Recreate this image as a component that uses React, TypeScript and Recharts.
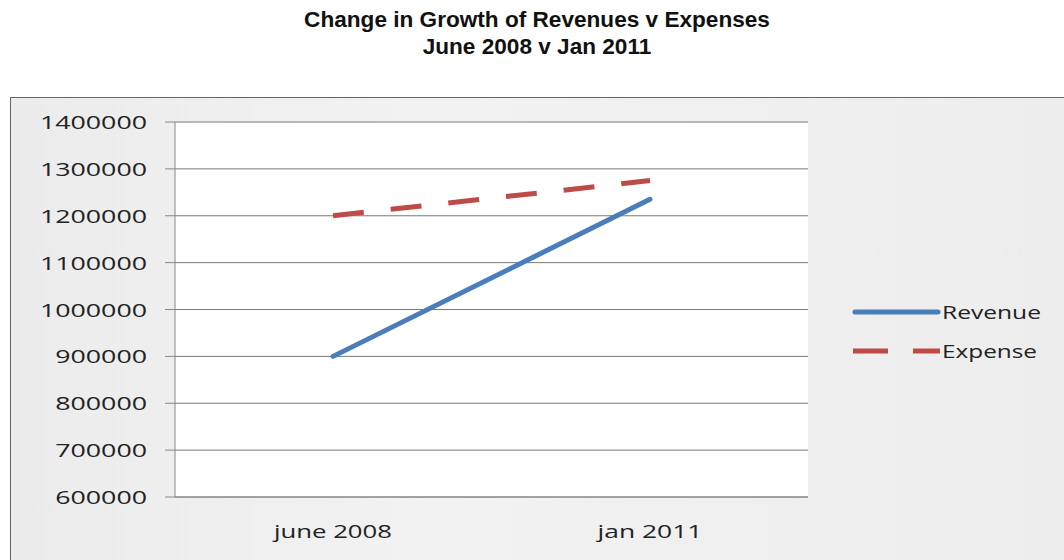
import { CartesianGrid, Legend, Line, LineChart, XAxis, YAxis } from "recharts"

const periods = ["june 2008", "jan 2011"]
const revenue = [900000, 1235000]
const expense = [1200000, 1275000]
const yTicks = [600000, 700000, 800000, 900000, 1000000, 1100000, 1200000, 1300000, 1400000]

const data = periods.map((p, i) => ({ period: p, revenue: revenue[i], expense: expense[i] }))

const font = "'Open Sans', 'DejaVu Sans', sans-serif"

const YTick = (props: any) => {
  const { x, y, payload } = props
  const label = String(payload.value)
  return (
    <text x={x} y={y} dy={7} textAnchor="end" fontFamily={font} fontSize={19} fill="#222"
      textLength={label.length * 15.3} lengthAdjust="spacingAndGlyphs">
      {label}
    </text>
  )
}

const XTick = (props: any) => {
  const { x, y, payload } = props
  const label = String(payload.value)
  return (
    <text x={x} y={y} dy={33} textAnchor="middle" fontFamily={font} fontSize={18} fill="#222"
      textLength={label.length * 13.1} lengthAdjust="spacingAndGlyphs">
      {label}
    </text>
  )
}

const LegendBox = () => (
  <svg width={200} height={70} style={{ position: "absolute", left: 850, top: 296 }}>
    <line x1={5} y1={16} x2={88} y2={16} stroke="#4a7ebb" strokeWidth={5} strokeLinecap="round" />
    <text x={92} y={23} fontFamily={font} fontSize={19} fill="#222" textLength={99} lengthAdjust="spacingAndGlyphs">Revenue</text>
    <line x1={3} y1={55} x2={38} y2={55} stroke="#be4b48" strokeWidth={5} />
    <line x1={63} y1={55} x2={90} y2={55} stroke="#be4b48" strokeWidth={5} />
    <text x={92} y={62} fontFamily={font} fontSize={19} fill="#222" textLength={95} lengthAdjust="spacingAndGlyphs">Expense</text>
  </svg>
)

export default function App() {
  return (
    <div style={{ position: "fixed", left: 0, top: 0, width: 1064, height: 560, background: "#fff", overflow: "hidden" }}>
      <div style={{ position: "absolute", left: 0, top: 6, width: 1074, textAlign: "center", fontFamily: "'Liberation Sans', Arial, sans-serif", fontWeight: "bold", fontSize: 22.6, lineHeight: "27px", color: "#111" }}>
        Change in Growth of Revenues v Expenses
        <br />
        June 2008 v Jan 2011
      </div>
      <div style={{ position: "absolute", left: 10, top: 97, width: 1060, height: 470, border: "1px solid #666", background: "linear-gradient(90deg, #ececec, #f2f2f2 40%, #ededed)" }} />
      <div style={{ position: "absolute", left: 0, top: 0 }}>
        <LineChart width={1064} height={560} data={data} margin={{ top: 122, right: 256, bottom: 0, left: 0 }}>
          <CartesianGrid vertical={false} stroke="#7a7a7a" fill="#fff" />
          <XAxis dataKey="period" height={63} padding={{ left: 158, right: 158 }} axisLine={{ stroke: "#888" }}
            tickLine={false} tick={<XTick />} interval={0} />
          <YAxis width={175} domain={[600000, 1400000]} ticks={yTicks} interval={0} axisLine={{ stroke: "#888" }}
            tickLine={{ stroke: "#888" }} tickSize={10} tickMargin={18} tick={<YTick />} />
          <Legend content={() => null} />
          <Line type="linear" dataKey="revenue" name="Revenue" stroke="#4a7ebb" strokeWidth={5} strokeLinecap="round" dot={false} isAnimationActive={false} />
          <Line type="linear" dataKey="expense" name="Expense" stroke="#be4b48" strokeWidth={5} strokeDasharray="31 27" dot={false} isAnimationActive={false} />
        </LineChart>
      </div>
      <LegendBox />
    </div>
  )
}
